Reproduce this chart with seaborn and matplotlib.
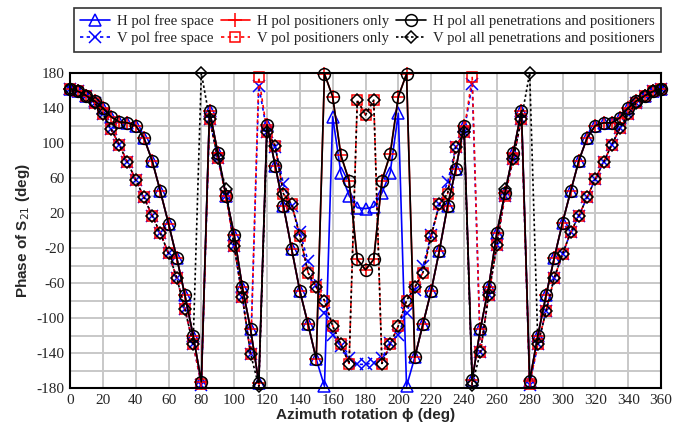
import numpy as np
import pandas as pd
import matplotlib
import matplotlib.pyplot as plt
import seaborn as sns

matplotlib.use('Agg')

# azimuth angles, 5 deg steps
azimuth = list(range(0, 365, 5))

# H pol, all penetrations and positioners (black solid, circles)
h_all = [162, 159, 154, 148, 140, 130, 124, 123, 120, 106, 80, 45, 8, -31, -74, -120,
         -173, 137, 89, 40, -5, -65, -113, -174, 121, 74, 28, -21, -69, -107, -147,
         179, 153, 86, 57, -33, -45, -33, 57, 87, 153, 179,
         -145, -107, -69, -23, 28, 70, 120, -171, -112, -65, -3, 43, 89, 137,
         -172, -120, -74, -31, 9, 45, 80, 106, 120, 123, 123, 129, 140, 148, 154, 159, 162]

# H pol, positioners only (red solid, plus) - sits on top of the black curve
h_pos = list(h_all)

# H pol, free space (blue solid, triangles)
h_free = [162, 159, 154, 148, 140, 130, 124, 123, 120, 106, 80, 45, 8, -31, -74, -120,
          -173, 137, 89, 40, -5, -65, -113, -174, 121, 74, 28, -21, -69, -107, -147,
          -178, 130, 66, 40, 26, 25, 27, 43, 66, 134, -178,
          -145, -107, -69, -23, 28, 70, 120, -171, -112, -65, -3, 43, 89, 137,
          -172, -120, -74, -31, 9, 45, 80, 106, 120, 123, 123, 129, 140, 148, 154, 159, 162]

# V pol, all penetrations and positioners (black dotted, diamonds)
v_all = [162, 159, 154, 146, 133, 116, 98, 78, 58, 38, 17, -3, -26, -54, -90, -130,
         180, 128, 83, 48, -18, -76, -141, -178, 113, 97, 42, 30, -6, -48, -65,
         -80, -109, -130, -152, 149, 132, 149, -152, -130, -109, -80,
         -65, -48, -6, 30, 42, 95, 113, -176, -139, -74, -17, 48, 82, 128,
         180, -130, -92, -54, -27, -2, 17, 38, 59, 78, 98, 117, 133, 146, 154, 159, 162]

# V pol, positioners only (red dotted, squares)
v_pos = [162, 159, 154, 146, 133, 116, 98, 78, 58, 38, 17, -3, -26, -54, -90, -130,
         -175, 128, 83, 40, -18, -76, -141, 175, 113, 97, 42, 30, -6, -48, -65,
         -80, -109, -130, -152, 149, 132, 149, -152, -130, -109, -80,
         -65, -48, -6, 30, 42, 95, 113, 175, -139, -74, -17, 40, 82, 128,
         -175, -130, -92, -54, -27, -2, 17, 38, 59, 78, 98, 117, 133, 146, 154, 159, 162]

# V pol, free space (blue dotted, crosses)
v_free = [162, 159, 154, 146, 133, 116, 98, 78, 58, 38, 17, -3, -26, -54, -90, -130,
          -176, 128, 83, 40, -18, -76, -141, 165, 113, 95, 53, 28, -2, -35, -62,
          -94, -119, -132, -146, -153, -153, -151, -146, -129, -119, -94,
          -68, -41, -5, 30, 55, 95, 113, 167, -139, -74, -17, 40, 82, 128,
          -176, -130, -92, -54, -27, -2, 17, 38, 59, 78, 98, 117, 133, 146, 154, 159, 162]

series = [
    ("H pol free space", h_free, "#0000ff", "-", "^", 8),
    ("V pol free space", v_free, "#0000ff", (0, (2, 2)), "x", 8),
    ("H pol positioners only", h_pos, "#ff0000", "-", "+", 10),
    ("V pol positioners only", v_pos, "#ff0000", (0, (2, 2)), "s", 7),
    ("H pol all penetrations and positioners", h_all, "#000000", "-", "o", 8.5),
    ("V pol all penetrations and positioners", v_all, "#000000", (0, (1.5, 1.5)), "D", 6),
]

sns.set_theme(style="white")
plt.rcParams['font.family'] = ['Liberation Serif', 'DejaVu Serif']
plt.rcParams['axes.unicode_minus'] = False

fig = plt.figure(figsize=(6.73, 4.32), dpi=100)
ax = fig.add_axes([70 / 673, 1 - 388 / 432, 591 / 673, 315 / 432])

for label, vals, color, ls, mk, ms in series:
    df = pd.DataFrame({"az": azimuth, "phase": vals})
    sns.lineplot(data=df, x="az", y="phase", ax=ax, color=color, linestyle=ls,
                 marker=mk, markersize=ms, markerfacecolor="none",
                 markeredgecolor=color, markeredgewidth=1.1, linewidth=1.2,
                 label=label, estimator=None, sort=False, legend=False)

ax.set_xlim(0, 360)
ax.set_ylim(-180, 180)
ax.set_xticks(np.arange(0, 361, 20))
ax.set_yticks(np.arange(-180, 181, 40))
ax.set_yticks(np.arange(-160, 180, 40), minor=True)
ax.grid(True, which="both", color="#c8c8c8", linewidth=1.4)
ax.set_axisbelow(True)
ax.tick_params(axis="both", which="both", length=0, labelsize=11, pad=4)
for sp in ax.spines.values():
    sp.set_color("black")
    sp.set_linewidth(1.5)
for ln in ax.get_lines():
    ln.set_clip_on(False)

ax.set_xlabel("Azimuth rotation ϕ (deg)", fontsize=11, fontweight="bold",
              family=["Liberation Sans", "DejaVu Sans"], labelpad=1)
ax.set_ylabel("Phase of S$_{21}$ (deg)", fontsize=11, fontweight="bold",
              family=["Liberation Sans", "DejaVu Sans"], labelpad=3)

handles, labels = ax.get_legend_handles_labels()
leg = fig.legend(handles, labels, loc="upper center", ncol=3,
                 bbox_to_anchor=(367.5 / 673, 1 - 8 / 432),
                 fontsize=10.6, frameon=True, fancybox=False, edgecolor="black",
                 handlelength=2.0, handletextpad=0.5, columnspacing=0.45,
                 borderpad=0.45, labelspacing=0.2, borderaxespad=0)
leg.get_frame().set_linewidth(1.2)

plt.savefig("out.png", dpi=100)
plt.close()
